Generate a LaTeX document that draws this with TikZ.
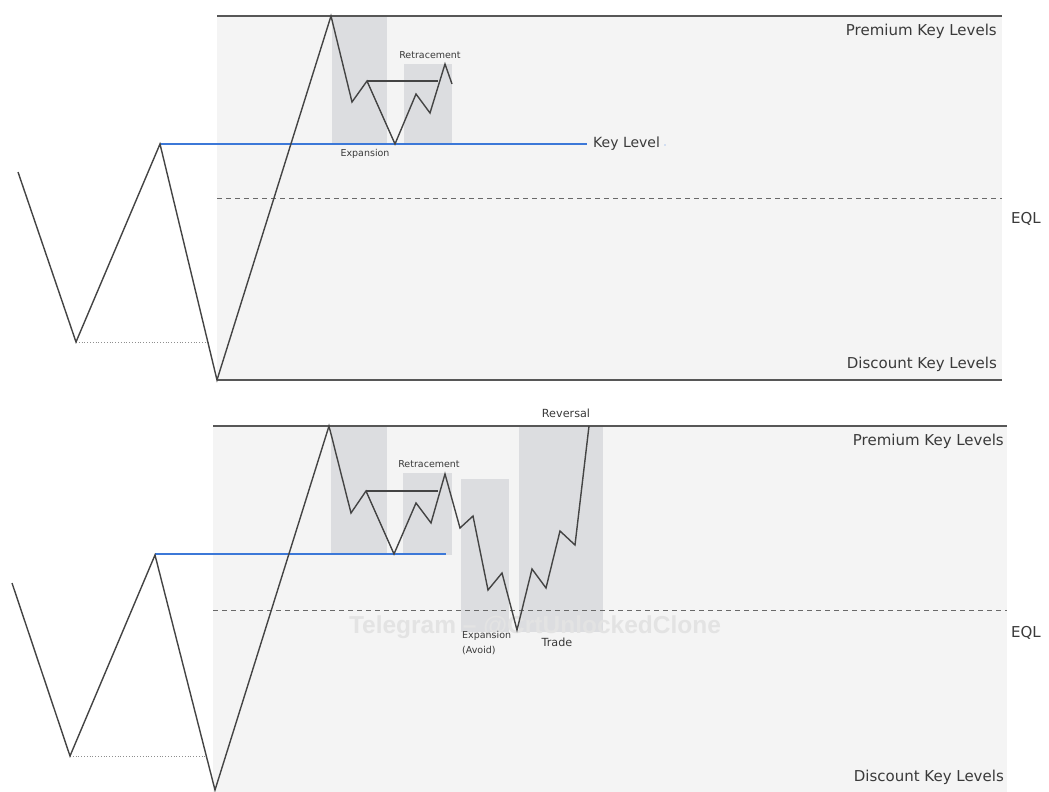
\documentclass[tikz,border=0pt]{standalone}
\usepackage{fontspec}
\setmainfont{DejaVu Sans}
\newfontfamily\markfont{Liberation Sans}
\definecolor{panelbg}{HTML}{F4F4F4}
\definecolor{zonebox}{HTML}{DCDDE0}
\definecolor{pricecol}{HTML}{444444}
\definecolor{keyblue}{HTML}{3C78D8}
\definecolor{labelcol}{HTML}{3A3A3A}
\definecolor{markcol}{HTML}{E3E3E3}
\tikzset{
  panel/.style={fill=panelbg, draw=none},
  zone/.style={fill=zonebox, draw=none},
  price/.style={draw=pricecol, line width=1.4pt, line join=miter},
  bound/.style={draw=pricecol!90, line width=1.1pt},
  eql/.style={draw=pricecol!80, line width=0.9pt, dash pattern=on 5pt off 4pt},
  keyline/.style={draw=keyblue, line width=2.2pt},
  lowlink/.style={draw=pricecol!60, line width=0.8pt, dotted},
  hilink/.style={draw=pricecol, line width=1.1pt},
  biglabel/.style={text=labelcol, font=\fontsize{15}{17}\selectfont, inner sep=0pt},
  keylabel/.style={text=labelcol, font=\fontsize{14}{16}\selectfont, inner sep=0pt},
  smalllabel/.style={text=labelcol, font=\fontsize{9.5}{15}\selectfont, inner sep=0pt, align=center},
  midlabel/.style={text=labelcol, font=\fontsize{11.2}{13}\selectfont, inner sep=0pt, align=center}
}
\begin{document}
\begin{tikzpicture}[x=1pt,y=-1pt]
\useasboundingbox (0,0) rectangle (1049,792);
\fill[white] (0,0) rectangle (1049,792);

% ---------- upper chart ----------
\fill[panel] (217,16) rectangle (1002,380);
\fill[zone] (332,16) rectangle (387,144);
\fill[zone] (404,64) rectangle (452,144);
\draw[bound] (217,16) -- (1002,16);
\draw[bound] (217,380) -- (1002,380);
\draw[eql] (217,198) -- (1002,198);
\draw[lowlink] (76,342) -- (208,342);
\draw[keyline] (160,144) -- (587,144);
\draw[hilink] (367,81) -- (438,81);
\draw[price] (18,172) -- (76,342) -- (160,144) -- (217,380) -- (331,16)
  -- (352,102) -- (367,81) -- (395,144) -- (416,94) -- (430,113)
  -- (445,64) -- (452,84);
\node[biglabel, anchor=east] (prem1) at (997,31) {Premium Key Levels};
\node[biglabel, anchor=east] (disc1) at (997,364) {Discount Key Levels};
\node[biglabel, anchor=west] (eql1) at (1011,219) {EQL};
\node[keylabel, anchor=west] (key1) at (593,144) {Key Level};
\fill[keyblue!40] (665,145) circle (0.9pt);
\node[smalllabel] (ret1) at (430,55) {Retracement};
\node[smalllabel] (exp1) at (365,154) {Expansion};

% ---------- lower chart ----------
\fill[panel] (213,426) rectangle (1007,792);
\fill[zone] (331,426) rectangle (387,554);
\fill[zone] (403,473) rectangle (452,555);
\fill[zone] (461,479) rectangle (509,632);
\fill[zone] (519,426) rectangle (603,632);
\draw[bound] (213,426) -- (1007,426);
\draw[eql] (213,610) -- (1007,610);
\node[text=markcol, font=\markfont\bfseries\fontsize{24.5}{26}\selectfont, inner sep=0pt] (mark) at (535,627) {Telegram – @CrtUnlockedClone};
\draw[lowlink] (70,756) -- (205,756);
\draw[keyline] (155,554) -- (446,554);
\draw[hilink] (366,491) -- (438,491);
\draw[price] (12,583) -- (70,756) -- (155,555) -- (215,790) -- (329,426)
  -- (351,513) -- (366,491) -- (394,554) -- (416,503) -- (431,523)
  -- (445,474) -- (460,528) -- (473,516) -- (488,590) -- (502,573)
  -- (517,630) -- (532,569) -- (546,588) -- (560,531) -- (575,545)
  -- (589,426);
\node[biglabel, anchor=east] (prem2) at (1004,441) {Premium Key Levels};
\node[biglabel, anchor=east] (disc2) at (1004,777) {Discount Key Levels};
\node[biglabel, anchor=west] (eql2) at (1011,633) {EQL};
\node[smalllabel] (ret2) at (429,464) {Retracement};
\node[midlabel] (rev2) at (566,413) {Reversal};
\node[smalllabel, align=left, anchor=north west] (exp2) at (462,631) {Expansion\\(Avoid)};
\node[midlabel] (trade2) at (557,642) {Trade};
\end{tikzpicture}
\end{document}
